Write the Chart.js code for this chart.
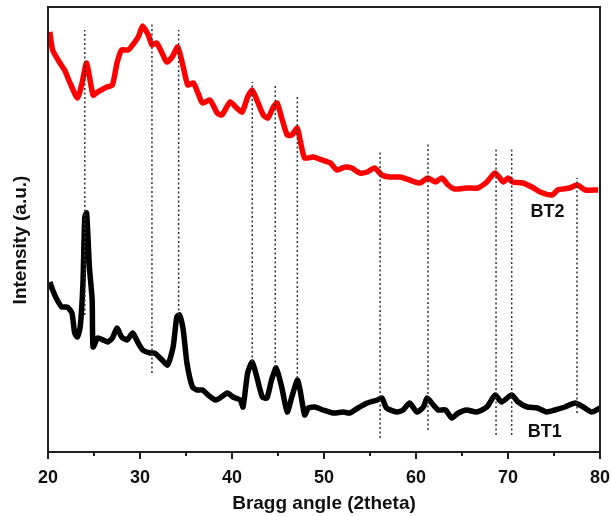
<!DOCTYPE html>
<html>
<head>
<meta charset="utf-8">
<script src="https://cdn.jsdelivr.net/npm/chart.js@4.4.1/dist/chart.umd.min.js"></script>
<style>
  html, body { margin: 0; padding: 0; background: #fff; }
  #wrap { width: 611px; height: 516px; }
</style>
</head>
<body>
<div id="wrap"><canvas id="xrd" width="611" height="516"></canvas></div>
<script>
//the data
const bt2Angle = [20.2, 20.5, 21.3, 21.8, 22.4, 23.2, 23.7, 24.2, 24.9, 25.4, 26.4, 27.0, 27.5, 28.0, 28.7, 29.2, 29.8, 30.3, 30.9, 31.3,
  31.8, 32.4, 32.9, 33.5, 34.1, 34.7, 35.2, 35.8, 36.3, 36.8, 37.6, 38.4, 38.9, 39.8, 40.5, 41.1, 41.7, 42.2, 42.7, 43.4,
  43.9, 44.5, 44.9, 45.4, 46.0, 46.5, 47.1, 47.4, 47.9, 48.8, 49.8, 50.7, 51.4, 52.3, 53.0, 53.9, 54.7, 55.5, 56.3, 57.2,
  58.3, 59.3, 60.4, 61.3, 62.1, 62.8, 63.5, 64.2, 65.5, 66.7, 67.7, 68.6, 69.5, 70.0, 70.5, 71.6, 72.6, 73.5, 74.8, 75.4,
  76.7, 77.5, 78.4, 79.8]
const bt2Intensity = [420, 402, 389, 382, 369, 354, 369, 389, 357, 360, 365, 367, 389, 402, 402, 407, 415, 426, 417, 407,
  409, 399, 390, 395, 405, 385, 367, 369, 359, 349, 352, 339, 337, 350, 344, 340, 355, 362, 352, 337,
  334, 345, 349, 334, 317, 317, 324, 312, 294, 295, 292, 289, 282, 285, 284, 279, 280, 284, 277, 275,
  275, 272, 269, 274, 270, 274, 267, 263, 264, 264, 270, 279, 270, 274, 270, 269, 265, 260, 257, 262,
  264, 267, 262, 262]

const bt1Angle = [20.2, 20.5, 21.0, 21.5, 22.1, 22.6, 22.9, 23.2, 23.5, 23.8, 24.0, 24.2, 24.5, 24.8, 24.9, 25.4, 26.0, 26.5, 27.0, 27.5,
  28.0, 28.6, 29.2, 29.8, 30.3, 31.1, 31.6, 32.4, 33.0, 33.6, 34.0, 34.3, 34.7, 35.1, 35.7, 36.2, 36.8, 37.4, 38.2, 38.7,
  39.5, 40.1, 40.9, 41.2, 41.7, 42.2, 42.7, 43.3, 43.8, 44.3, 44.8, 45.4, 46.0, 46.5, 47.1, 47.4, 47.9, 48.3, 49.0, 49.9,
  51.0, 52.1, 52.8, 53.7, 54.7, 55.8, 56.3, 56.8, 57.9, 58.6, 59.3, 60.1, 60.8, 61.2, 61.7, 62.4, 63.2, 63.9, 64.6, 65.5,
  66.6, 67.7, 68.6, 69.3, 70.4, 71.1, 72.1, 73.2, 74.2, 75.1, 76.2, 77.3, 78.2, 79.1, 80.0]
const bt1Intensity = [170, 162, 152, 145, 145, 139, 119, 115, 125, 169, 235, 239, 185, 152, 105, 114, 112, 110, 114, 124,
  115, 112, 119, 109, 102, 99, 99, 92, 87, 105, 135, 137, 122, 89, 65, 62, 62, 57, 52, 54,
  59, 55, 52, 45, 79, 90, 75, 55, 54, 72, 84, 65, 40, 55, 72, 62, 37, 44, 45, 42,
  39, 40, 39, 44, 49, 52, 54, 44, 40, 42, 49, 40, 45, 54, 49, 42, 42, 34, 39, 42,
  40, 45, 57, 50, 57, 50, 45, 44, 40, 42, 45, 49, 45, 40, 44]

//reference peak lines
const peakAngle = [24.0, 31.3, 34.2, 42.2, 44.7, 47.1, 56.1, 61.3, 68.7, 70.4, 77.5]
const peakTop = [422, 428, 422, 370, 368, 357, 301, 309, 304, 304, 274]
const peakBottom = [137, 79, 137, 90, 85, 74, 14, 22, 17, 17, 39]

const xTicks = [20, 30, 40, 50, 60, 70, 80]
const seriesLabels = ['BT2', 'BT1']
const labelAngle = [74.3, 74.0]
const labelIntensity = [240, 20]

const FONT = '"Liberation Sans", Arial, sans-serif'
const toPoints = (xs, ys) => xs.map((x, i) => ({ x: x, y: ys[i] }))

const datasets = []
peakAngle.forEach((a, i) => {
  datasets.push({
    data: [{ x: a, y: peakBottom[i] }, { x: a, y: peakTop[i] }],
    borderColor: '#333',
    borderWidth: 1.5,
    borderDash: [2, 2.5],
    pointRadius: 0,
    order: 0
  })
})
datasets.push({
  label: 'BT2',
  data: toPoints(bt2Angle, bt2Intensity),
  borderColor: '#ff0000',
  borderWidth: 5.5,
  pointRadius: 0,
  tension: 0.2,
  order: 1
})
datasets.push({
  label: 'BT1',
  data: toPoints(bt1Angle, bt1Intensity),
  borderColor: '#000000',
  borderWidth: 5.5,
  pointRadius: 0,
  tension: 0.2,
  order: 1
})

//frame, minor ticks, labels
const decor = {
  id: 'decor',
  afterDraw(chart) {
    const c = chart.ctx
    const a = chart.chartArea
    const xs = chart.scales.x
    const ys = chart.scales.y
    c.save()
    c.strokeStyle = '#222'
    c.lineWidth = 2
    c.strokeRect(a.left, a.top, a.right - a.left, a.bottom - a.top)
    for (let v = 20; v <= 80; v += 5) {
      const px = Math.round(xs.getPixelForValue(v))
      const len = v % 10 === 0 ? 7 : 4
      c.beginPath()
      c.moveTo(px, a.bottom)
      c.lineTo(px, a.bottom + len)
      c.stroke()
    }
    c.fillStyle = '#111'
    c.font = 'bold 18px ' + FONT
    c.textAlign = 'center'
    c.textBaseline = 'middle'
    seriesLabels.forEach((t, i) => {
      c.fillText(t, xs.getPixelForValue(labelAngle[i]), ys.getPixelForValue(labelIntensity[i]))
    })
    c.font = 'bold 19px ' + FONT
    c.translate(21, 240)
    c.rotate(-Math.PI / 2)
    c.fillText('Intensity (a.u.)', 0, 0)
    c.restore()
  }
}

const ctx = document.getElementById('xrd').getContext('2d')
const chart = new Chart(ctx, {
  type: 'line',
  data: { datasets: datasets },
  options: {
    responsive: false,
    animation: false,
    layout: { padding: { left: 0, top: 7, right: 11, bottom: 0 } },
    plugins: { legend: { display: false }, tooltip: { enabled: false } },
    scales: {
      x: {
        type: 'linear',
        min: 20,
        max: 80,
        afterBuildTicks: (s) => { s.ticks = xTicks.map(v => ({ value: v })) },
        afterFit: (s) => { s.height = 64; s.paddingLeft = 0; s.paddingRight = 0 },
        border: { display: false },
        grid: { drawOnChartArea: false, tickLength: 7, tickColor: 'rgba(0,0,0,0)' },
        ticks: {
          color: '#111',
          padding: 8,
          maxRotation: 0,
          font: { family: FONT, size: 18, weight: 'bold' }
        },
        title: {
          display: true,
          text: 'Bragg angle (2theta)',
          color: '#111',
          padding: { top: 0, bottom: 1 },
          font: { family: FONT, size: 19, weight: 'bold' }
        }
      },
      y: {
        type: 'linear',
        min: 0,
        max: 445,
        afterFit: (s) => { s.width = 48 },
        border: { display: false },
        grid: { display: false },
        ticks: { display: false }
      }
    }
  },
  plugins: [decor]
})
</script>
</body>
</html>
